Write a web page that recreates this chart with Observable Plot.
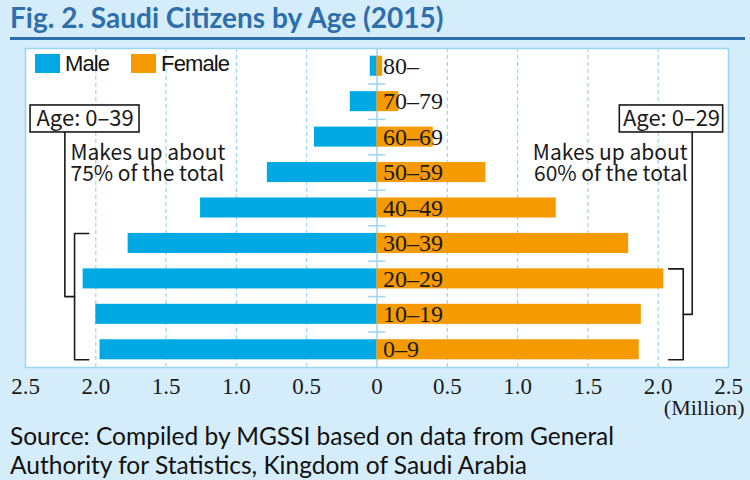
<!DOCTYPE html>
<html><head><meta charset="utf-8">
<script src="https://cdn.jsdelivr.net/npm/d3@7"></script>
<script src="https://cdn.jsdelivr.net/npm/@observablehq/plot@0.6"></script>
<style>
html,body{margin:0;padding:0;background:#D5EDFA;}
#fig{position:relative;width:750px;height:480px;background:#D5EDFA;overflow:hidden;}
#title{position:absolute;left:10px;top:0px;font-family:Lato,sans-serif;font-weight:bold;font-size:28px;line-height:34px;color:#2E6EAA;white-space:nowrap;}
#rule{position:absolute;left:10px;top:37px;width:735px;height:3px;background:#2E6EAA;}
#chart{position:absolute;left:0;top:40px;}
#legend{position:absolute;left:35px;top:47px;}
#source{position:absolute;left:10px;top:421px;font-family:Lato,sans-serif;font-size:24.5px;line-height:29px;color:#111;white-space:nowrap;}
.lg-swatches{font-family:"Liberation Sans",Arial,sans-serif !important;font-size:22px !important;letter-spacing:-0.9px;margin:0 !important;color:#111 !important;}
.lg-swatch{margin-right:22px !important;}
.lg-swatch > svg{margin-right:5px !important;}
</style>
</head><body>
<div id="fig">
  <div id="title">Fig. 2. Saudi Citizens by Age (2015)</div>
  <div id="rule"></div>
  <div id="chart"></div>
  <div id="legend"></div>
  <div id="source">Source: Compiled by MGSSI based on data from General<br>Authority for Statistics, Kingdom of Saudi Arabia</div>
</div>
<script>
// ---- data (bottom row first) ----
const ages   = ["0–9", "10–19", "20–29", "30–39", "40–49", "50–59", "60–69", "70–79", "80–"];
const male   = [1.97, 2.00, 2.09, 1.77, 1.255, 0.78, 0.445, 0.19, 0.048];   // million
const female = [1.865, 1.88, 2.04, 1.79, 1.275, 0.774, 0.40, 0.155, 0.04]; // million
const xTicks = [-2.5, -2, -1.5, -1, -0.5, 0, 0.5, 1, 1.5, 2, 2.5];
const seriesNames = ["Male", "Female"];
const seriesColors = ["#00A9E4", "#F59A00"];
const axisUnit = "(Million)";

// annotation groups: age index range covered, label, note
const groupLabels = ["Age: 0–39", "Age: 0–29"];
const groupNotes  = ["Makes up about\n75% of the total", "Makes up about\n60% of the total"];
const groupLo = [0, 0];
const groupHi = [3, 2];

const rows = ages.map((age, i) => ({age, i, male: male[i], female: female[i]}));

const bandInset = 7.7;       // px, bar inset top/bottom within its row
const insetU = 0.218;        // same inset in row units
const blue = seriesColors[0], orange = seriesColors[1];
const grid = "#9CD5F2";
const ink = "#1a1a1a";
const serif = "'Liberation Serif', 'DejaVu Serif', serif";
const sans = "'Noto Sans CJK JP', 'Noto Sans', sans-serif";

// annotation geometry (x in million units, y in row units)
const ann = [
  {side: -1, boxX1: -2.464, boxX2: -1.689, connX: -2.22, brX: -2.151, endX: -2.05, noteX: -2.18},
  {side:  1, boxX1:  1.727, boxX2:  2.462, connX:  2.242, brX: 2.178, endX: 2.075, noteX: 2.21}
].map((a, k) => {
  const lo = groupLo[k], hi = groupHi[k];
  return {...a, label: groupLabels[k], note: groupNotes[k],
    boxY1: 6.631, boxY2: 7.393, boxYc: 7.0, noteY: 5.76,
    top: hi + 1 - insetU, bottom: lo + insetU, mid: (lo + hi + 1) / 2};
});
const paths = [];
ann.forEach((a, k) => {
  paths.push({z: "c" + k, x: a.connX, y: a.boxY1});
  paths.push({z: "c" + k, x: a.connX, y: a.mid});
  paths.push({z: "c" + k, x: a.brX, y: a.mid});
  paths.push({z: "b" + k, x: a.endX, y: a.top});
  paths.push({z: "b" + k, x: a.brX, y: a.top});
  paths.push({z: "b" + k, x: a.brX, y: a.bottom});
  paths.push({z: "b" + k, x: a.endX, y: a.bottom});
});

const chart = Plot.plot({
  width: 750,
  height: 380,
  marginTop: 8,
  marginBottom: 53,
  marginLeft: 25,
  marginRight: 22,
  style: {background: "transparent", overflow: "visible"},
  x: {domain: [-2.5, 2.5], axis: null},
  y: {domain: [0, 9], axis: null},
  marks: [
    Plot.frame({fill: "white", stroke: grid, strokeWidth: 1.5}),
    Plot.ruleX(xTicks.filter(d => d !== 0), {stroke: grid, strokeDasharray: "4,3", strokeWidth: 1.2}),
    Plot.ruleX([0], {stroke: grid, strokeWidth: 1.5}),
    Plot.ruleY(d3.range(1, ages.length), {x1: -0.062, x2: 0.062, stroke: grid, strokeWidth: 1.5}),
    Plot.rectX(rows, {x1: 0, x2: d => -d.male, y1: "i", y2: d => d.i + 1, insetTop: bandInset, insetBottom: bandInset, fill: blue}),
    Plot.rectX(rows, {x1: 0, x2: "female", y1: "i", y2: d => d.i + 1, insetTop: bandInset, insetBottom: bandInset, fill: orange}),
    Plot.text(rows, {x: 0, y: d => d.i + 0.5, text: "age", textAnchor: "start", dx: 6, fontFamily: serif, fontSize: 24, fill: ink}),
    Plot.axisX(xTicks, {tickFormat: d => d === 0 ? "0" : Math.abs(d).toFixed(1), tickSize: 0, tickPadding: 10, fontSize: 23, fontFamily: serif, fill: ink, label: null}),
    Plot.text([axisUnit], {frameAnchor: "bottom-right", text: d => d, dx: 16, dy: 40, textAnchor: "end", lineAnchor: "middle", fontFamily: serif, fontSize: 22, fill: ink}),
    // annotations
    Plot.line(paths, {x: "x", y: "y", z: "z", stroke: ink, strokeWidth: 1.6, curve: "linear"}),
    Plot.rect(ann, {x1: "boxX1", x2: "boxX2", y1: "boxY1", y2: "boxY2", fill: "white", stroke: ink, strokeWidth: 1.6}),
    Plot.text(ann, {x: d => (d.boxX1 + d.boxX2) / 2, y: "boxYc", text: "label", fontFamily: sans, fontSize: 22, fill: ink}),
    Plot.text(ann.filter(d => d.side < 0), {x: "noteX", y: "noteY", text: "note", textAnchor: "start", fontFamily: sans, fontSize: 21, lineHeight: 1.0, fill: ink}),
    Plot.text(ann.filter(d => d.side > 0), {x: "noteX", y: "noteY", text: "note", textAnchor: "end", fontFamily: sans, fontSize: 21, lineHeight: 1.0, fill: ink})
  ]
});
document.getElementById("chart").appendChild(chart);

const legend = Plot.legend({
  color: {domain: seriesNames, range: seriesColors},
  legend: "swatches",
  swatchWidth: 25,
  swatchHeight: 19,
  className: "lg"
});
document.getElementById("legend").appendChild(legend);
</script>
</body></html>
